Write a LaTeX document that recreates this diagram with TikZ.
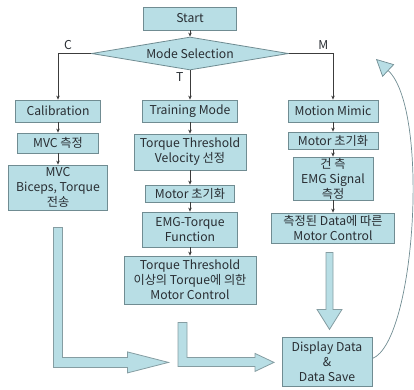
\documentclass[tikz,border=0pt]{standalone}
\usepackage{fontspec}
\setmainfont{Noto Sans CJK KR}
\usetikzlibrary{positioning,shapes.geometric,arrows.meta,calc}
\definecolor{boxfill}{RGB}{184,222,229}
\definecolor{boxline}{RGB}{112,140,146}
\definecolor{linegray}{RGB}{60,60,60}
\definecolor{textgray}{RGB}{40,45,50}

\begin{document}
\begin{tikzpicture}[x=1pt, y=1pt, >={Stealth[length=4pt,width=3.5pt]},
    every node/.style={font=\fontsize{12.2}{15}\selectfont, text=textgray},
    box/.style={draw=boxline, fill=boxfill, line width=0.8pt, align=center, inner sep=1pt},
    link/.style={->, draw=linegray, line width=0.6pt},
    fat/.style={draw=boxline!85, fill=boxfill, line width=0.8pt}]
    \useasboundingbox (0,0) rectangle (414,-389);

    % Start and mode selection
    \node[box, minimum width=93pt, minimum height=23pt] (start) at (190,-18.5) {Start};
    \node[box, diamond, aspect=6, minimum width=197pt, minimum height=33pt, inner sep=0pt, node distance=35pt, below of=start] (mode) {Mode Selection};

    % Calibration
    \node[box, minimum width=95pt, minimum height=22pt, node distance=57.5pt, below of=mode] (train) {Training Mode};
    \node[box, minimum width=85pt, minimum height=22pt, node distance=132pt, left of=train] (cal) {Calibration};
    \node[box, minimum width=81pt, minimum height=20pt, node distance=32pt, below of=cal] (mvc) {MVC 측정};
    \node[box, minimum width=99pt, minimum height=45pt, node distance=44.5pt, below of=mvc] (bicep) {MVC\\Biceps, Torque\\전송};

    % Training mode
    \node[box, minimum width=112pt, minimum height=36pt, node distance=41pt, below of=train] (thresh) {Torque Threshold\\Velocity 선정};
    \node[box, minimum width=89pt, minimum height=17pt, node distance=41.5pt, below of=thresh] (tmotor) {Motor 초기화};
    \node[box, minimum width=95pt, minimum height=35pt, node distance=36pt, below of=tmotor] (emgfn) {EMG-Torque\\Function};
    \node[box, minimum width=132pt, minimum height=48pt, node distance=50.5pt, below of=emgfn] (tctrl) {Torque Threshold\\이상의 Torque에 의한\\Motor Control};

    % Motion mimic
    \node[box, minimum width=90pt, minimum height=22pt, node distance=143pt, right of=train] (mimic) {Motion Mimic};
    \node[box, minimum width=90pt, minimum height=17pt, node distance=29.5pt, below of=mimic] (mmotor) {Motor 초기화};
    \node[box, minimum width=80pt, minimum height=43pt, node distance=38pt, below of=mmotor] (tendon) {건 측\\EMG Signal\\측정};
    \node[box, minimum width=123pt, minimum height=30pt, node distance=49.5pt, below of=tendon] (mctrl) {측정된 Data에 따른\\Motor Control};
    \node[box, minimum width=90pt, minimum height=49pt, node distance=133.5pt, below of=mctrl, xshift=-6pt] (disp) {Display Data\\\&\\Data Save};
    \coordinate (loop) at (376,-59);

    \draw[link] (start) -- (mode);
    \draw[link] (mode.west) -| node[pos=0.35, above] {C} (cal);
    \draw[link] (mode.south) -- node[pos=0.22, left, xshift=-3pt] {T} (train);
    \draw[link] (mode.east) -| node[pos=0.39, above] {M} (mimic);
    \draw[link] (cal) -- (mvc);
    \draw[link] (mvc) -- (bicep);
    \draw[link] (train) -- (thresh);
    \draw[link] (thresh) -- (tmotor);
    \draw[link] (tmotor) -- (emgfn);
    \draw[link] (emgfn) -- (tctrl);
    \draw[link] (mimic) -- (mmotor);
    \draw[link] (mmotor) -- (tendon);
    \draw[link] (tendon) -- (mctrl);

    % block arrows into the display box
    \draw[fat] ($(bicep.south)+(-4.5,-17)$) -- ++(0,-140) -- ++(74,0) -- ++(0,-5.5) -- ++(41,10.5) -- ++(-41,10.5) -- ++(0,-5.5) -- ++(-65,0) -- ++(0,130) -- cycle;
    \draw[fat] ($(tctrl.south)+(-12,-18)$) -- ++(0,-44) -- ++(77,0) -- ++(0,-5) -- ++(19,9) -- ++(-19,9) -- ++(0,-4) -- ++(-68,0) -- ++(0,35) -- cycle;
    \draw[fat] ($(mctrl.south)+(-7,-9)$) -- ++(0,-57) -- ++(-9,0) -- ++(12.5,-20) -- ++(12.5,20) -- ++(-9,0) -- ++(0,57) -- cycle;

    % back to mode selection
    \draw[draw=boxline, line width=0.7pt, -{Triangle[length=17pt, width=17pt, fill=boxfill]}] ([yshift=3pt]disp.east) .. controls +(43,17) and +(54,-51) .. (loop);
\end{tikzpicture}
\end{document}
